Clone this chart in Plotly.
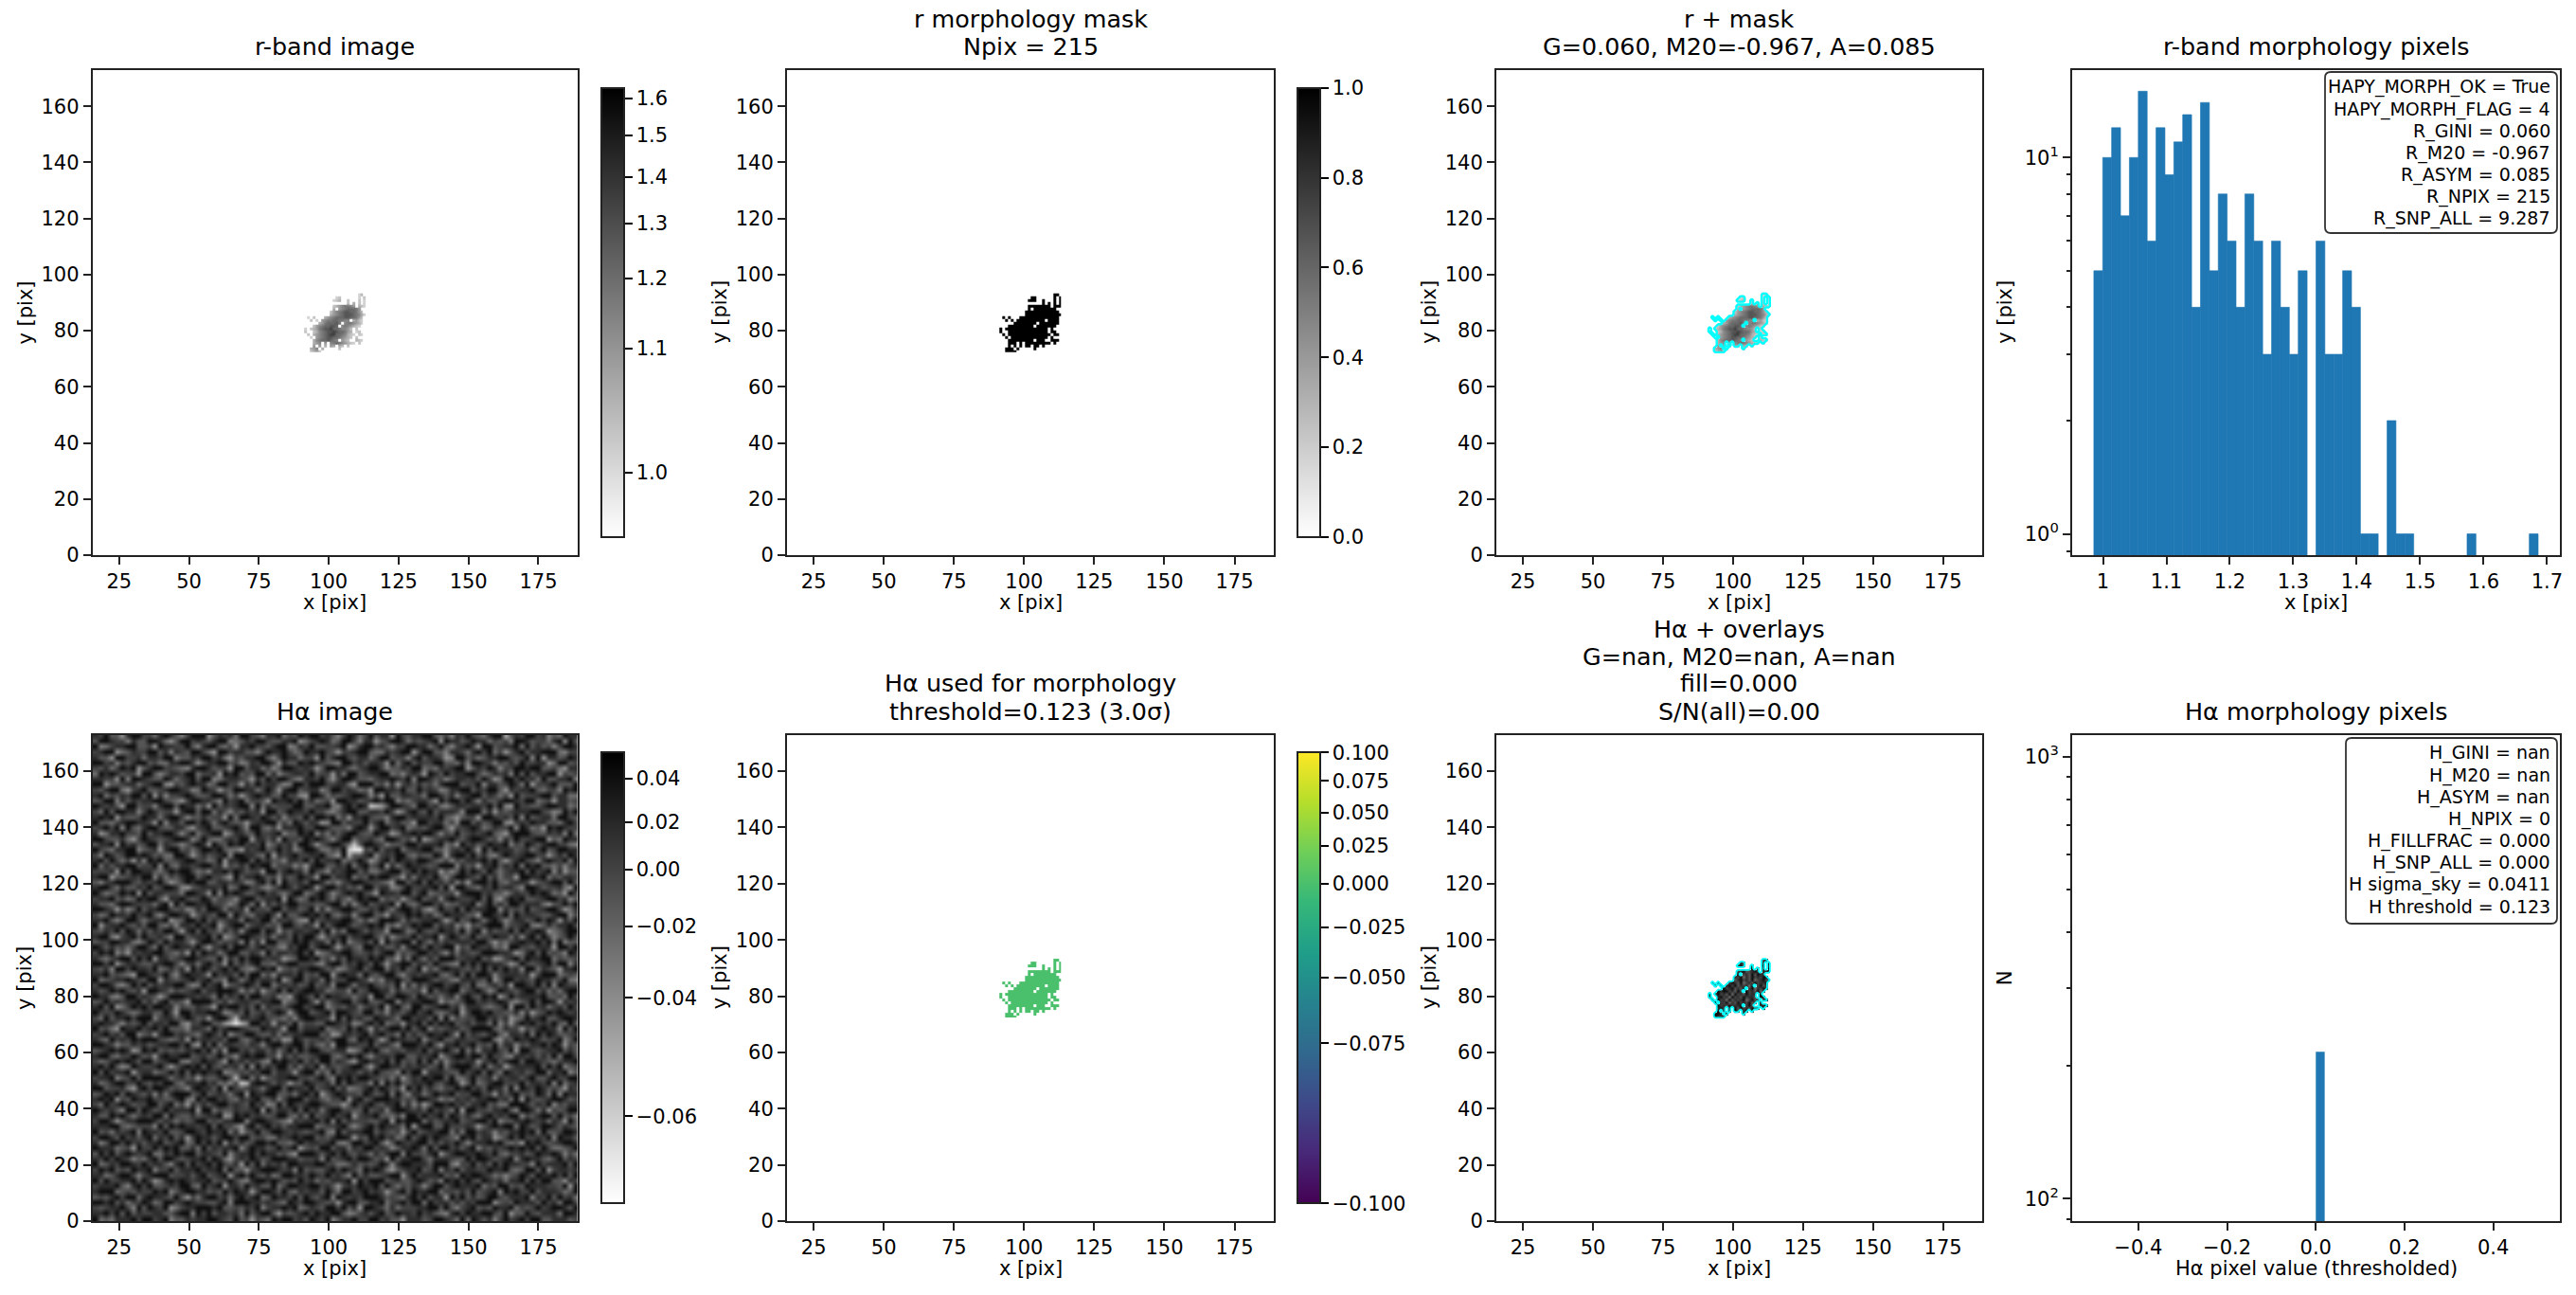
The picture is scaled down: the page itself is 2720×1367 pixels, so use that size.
import numpy as np
import plotly.graph_objects as go
from plotly.subplots import make_subplots

# r-band histogram, 50 bins
R_HIST_START = 0.9856
R_HIST_WIDTH = 0.01401
R_HIST_COUNTS = [5, 10, 12, 7, 10, 15, 6, 12, 9, 11, 13, 4, 14, 5, 8, 6, 4, 8, 6, 3, 6, 4, 3, 5, 0,
                 6, 3, 3, 5, 4, 1, 1, 0, 2, 1, 1, 0, 0, 0, 0, 0, 0, 1, 0, 0, 0, 0, 0, 0, 1]

# Halpha histogram, only one filled bin
HA_HIST_LEFT = [0.0]
HA_HIST_WIDTH = [0.02]
HA_HIST_COUNTS = [215]

# colorbar ticks and where they sit along the bar (0 bottom, 1 top)
R_CB_VALUES = [0.985, 1.0, 1.1, 1.2, 1.3, 1.4, 1.5, 1.6, 1.63]
R_CB_POS = [0.0, 0.143, 0.42, 0.576, 0.698, 0.802, 0.895, 0.977, 1.0]
R_CB_LABELS = ['1.0', '1.1', '1.2', '1.3', '1.4', '1.5', '1.6']

HA_CB_VALUES = [-0.0645, -0.06, -0.04, -0.02, 0.0, 0.02, 0.04, 0.056]
HA_CB_POS = [0.0, 0.193, 0.456, 0.614, 0.741, 0.845, 0.942, 1.0]
HA_CB_LABELS = ['\u22120.06', '\u22120.04', '\u22120.02', '0.00', '0.02', '0.04']

MASK_CB_VALUES = [0.0, 0.2, 0.4, 0.6, 0.8, 1.0]
MASK_CB_LABELS = ['0.0', '0.2', '0.4', '0.6', '0.8', '1.0']

USED_CB_VALUES = [-0.1, -0.075, -0.05, -0.025, 0.0, 0.025, 0.05, 0.075, 0.1]
USED_CB_POS = [0.0, 0.355, 0.501, 0.612, 0.709, 0.793, 0.866, 0.937, 1.0]
USED_CB_LABELS = ['\u22120.100', '\u22120.075', '\u22120.050', '\u22120.025', '0.000', '0.025', '0.050', '0.075', '0.100']

# blob cut-out, top row first, '.' is outside the mask, digit is a flux level
BLOB_X0 = 91.7
BLOB_Y0 = 72.8
R_LEVELS = [1.0, 1.01, 1.03, 1.06, 1.09, 1.13, 1.17, 1.21, 1.27, 1.35]
R_BLOB = [
    "...................13.",
    "...........12......1.2",
    "..........123..2...2.1",
    "...............2.3.2.1",
    "..........23456654.321",
    "..........3.45677764..",
    ".........245678877642.",
    ".........3456788876531",
    ".1.2...34567778877642.",
    "..2.1.4566776655.3421.",
    ".....34677786.5665431.",
    "...245677887.5654321..",
    "1.234678897765542.2...",
    "2..23567889877643.12..",
    ".2.345678997765321.21.",
    "..1.4567887765432.2...",
    "...356778765.432..321.",
    "...345.4.567654321.2..",
    "...4.4.3.43.32.2......",
    "..345.3.....2.........",
    "..2342................",
]
HA_LEVELS = [-0.062, -0.056, -0.05, -0.042, -0.034, -0.025, -0.012, 0.0, 0.015, 0.04]
HA_BLOB = [
    "...................79.",
    "...........86......8.9",
    "..........795..7...9.8",
    "...............9.8.7.9",
    "..........78967897.889",
    "..........9.78696988..",
    ".........879586978799.",
    ".........6897869578968",
    ".9.8...79869578697889.",
    "..8.9.8979687859.7968.",
    ".....97896869.7958797.",
    "...989978697.9786958..",
    "8.797869597869788.9...",
    "9..89785978697886.98..",
    ".8.978596878957968.79.",
    "..9.8795869787968.8...",
    "...978697889.796..889.",
    "...897.8.969786978.9..",
    "...9.7.8.97.89.8......",
    "..998.9.....8.........",
    "..9789................",
]

# Halpha background, hand estimated grain (digit 0 pale .. 9 dark), top row first
HA_GRID_X0 = 15.5
HA_GRID_STEP = 1.93
HA_GRAIN = [
    "8796638997 7589864799 9368785997 6488957698 9978647985 7968839768 8996574879 7658992687 9978465988",
    "6998774866 9985369978 7689945687 9976688935 7898569974 8836799857 6789398867 9885767499 8677589396",
    "9457889966 7398877964 8996573889 7768994587 9667789358 9978647799 8857964789 7399678895 9686747998",
    "7899356877 9968487699 7539978866 4798897569 8897637789 9655878993 7996648875 8979573689 6889995477",
    "8663997785 8879946687 9978537688 9964798857 7396899768 8579967748 9688734996 7568899767 9493886798",
    "9978476899 6755889973 6889967458 7997386698 9876549978 6887395896 8779966584 9987476869 7788359967",
    "7685798936 8997765489 9867739968 8574699878 7369988657 8997466879 9565878993 6879847799 8996675388",
    "5989867739 9646887995 7783989676 9958467887 9677385996 7889956478 7398697889 9756878496 9688993767",
    "8877394998 7669857896 9945788763 8697997548 8796379986 6578898794 9986746887 8697359979 7859668894",
    "9936678857 8994376898 8569977386 9788645997 6897788539 9967483786 8675899967 7948867985 9377896669",
    "7689953789 6678998745 9873669988 5797389967 8846997875 6399887966 9787458899 6879963878 8965774989",
    "8957687996 9384778986 6799857368 9886697743 9985767899 8473966887 7599868478 9968757396 7789968855",
    "6799486878 8997653799 8864978957 7639889796 8567399886 7898994657 8863979979 7486689987 9956738867",
    "9878639967 7489969885 7396878994 9586777996 6889548979 8763699875 9978546887 8879694397 7668998856",
    "7596998847 9867738996 9958647687 8399679887 9775468996 6887973589 7696888749 9958376788 8997645979",
    "8989376679 8858997466 8677395998 7986847769 6998957388 9766489978 8887965367 7399878694 9678859976",
    "9665789988 7394886997 9858976637 8899575986 8734996877 9689578663 9978857499 6867994378 7988665897",
    "7897949658 9976688537 8966789749 9657388897 7998666489 8379978956 7689963778 9856877949 8563989877",
    "8358897769 6889974795 7899358866 9778946698 9475868997 6698735889 8997476967 8789653899 9766878495",
    "9976685379 8767899846 9655787993 8868397769 8986479957 7865998674 9357889768 9986748697 7899365988",
    "6889397867 9958764689 8397698978 7946878599 7368997586 9987466799 7888956397 8679889476 9868997754",
    "9765889946 7838996757 9989655387 8967978469 9855769883 7696889578 8996647879 7396988867 8579679988",
    "7498679989 8675599736 8678949988 6593878977 8896539766 8947879965 7669838997 9685479878 9977368698",
    "8969757384 9896678997 7569388996 9786648879 6978895679 7358969887 9986574768 8897963689 7648987959",
    "9586889967 7949658878 9978376869 8995777463 8996687958 9679385798 8767999486 7388968795 9896657478",
    "7778396998 8657989975 6488979867 7399689885 9764878996 8557899679 7988364697 9869757889 6978948366",
    "8993667879 9485768996 8977539688 9867486798 7399688957 6989976385 8879647998 7696857739 9889576887",
    "6478999768 7896357989 9668878745 8969397786 9985647899 8776539968 9697868473 8997965788 7367899696",
    "8997586687 9679984367 8887956997 7546898689 8379978675 9968845797 7889693997 6587978864 9986778539",
    "9756798939 6887775998 7394989866 8978657995 6897468989 7639887996 8956777389 9978664687 7989856397",
    "7889675698 9963889767 9857764899 6788939756 9897586479 8995767368 9678489877 8969537989 6678997846",
    "8665899877 7589396998 8977646985 9386879977 7668995847 9678893965 7997856688 9479686997 8885367979",
    "9987374696 8899767458 6998587839 7769968867 9484789986 6879758997 8536977969 7889948676 9678997358",
    "7569887978 9647998836 8769949765 8897396689 8979657848 9966387798 9785698886 6399879597 8876689947",
    "8896469975 7889356997 9686788598 7995878643 9678889975 7469998586 7889736967 9858974688 6797983869",
    "9378897686 9965748879 7893689957 8867599768 7396899867 8989564779 8996878463 7689995778 9546868897",
    "7687969858 6879973896 9775868489 9698376887 8969475998 6877399856 9767988695 8948677969 7898356899",
    "8995378969 7786499678 8969357998 7685886979 9637789688 9975846779 6889379867 9677988584 8969746797",
    "6779988546 9869788637 9986778495 8399667989 7885969467 8693978995 9758687888 7996365789 8897959466",
    "9868675799 7596898879 6378969986 8977548799 6899737865 9978668489 8697899376 9878564997 7688839979",
    "7989463878 8997657396 9885799668 7496887897 9356889976 7868995767 9978648587 6799988735 8969676498",
    "8657899697 9388678998 7669486979 9878735699 8967486988 7989663859 7586999778 8967347896 9889957667",
    "9979368876 6889974785 8977396868 9665889977 7548996879 8697378996 8869765497 9798886359 7678969948",
    "7684997988 7956868397 9868979654 7989367688 9986745789 6899587967 9375898876 8696979784 9958763889",
    "8896765399 8779648988 7397886969 9574888796 7699389885 9768996478 7889657969 6998478887 8379995676",
    "9567889876 9938767897 8966498579 7887936996 8859677998 7364889769 9986775488 8769369978 7698867954",
    "7998546979 6878899645 9789367898 6995787867 9678499858 8976769385 8689978976 9557868399 8796949877",
    "8679897683 9987576789 6889998475 8367969789 9885677496 7998858667 7396889957 8974698768 9968575899",
    "9885469978 7636999887 8759687969 9778453898 6969887757 8399679986 9867578489 7698936978 8889667597",
    "6797878896 8589676399 9976857887 6889946799 7385789968 9667994878 8998365679 9787898546 7969983878",
    "8969357989 7998847668 7639899786 9587768997 8994676885 7879389659 9678997848 8865679399 6978578697",
    "9777986568 8669739978 8998457696 7868983799 6789599876 9967487689 7896568937 9989776684 8367989878",
    "7596889799 9478867986 7389969887 8976657489 9887396978 6698875997 8869494767 7997868356 9789668998",
    "8988647679 6887995377 9966788649 9783886957 7669987845 8979567388 9697989678 6885947379 8978796596",
    "9675398897 8979666488 7597899876 6988739968 8895676979 7386899796 8947678867 9999658773 7689884969",
    "7897869946 7389978765 8986946799 7668587889 9967348878 9689775968 6798897396 8768964887 9597986678",
    "8659787989 9976568397 8878699657 9896734986 7786899659 8973698877 9478966887 7899537698 8986779469",
    "9987466878 6788997953 9695887768 7489978996 8657399887 7968864999 8796388978 9676958847 6889798376",
    "6789898359 8967676889 7958399786 8868579697 9976788346 9896577688 7968897595 8488976939 9767889686",
    "8996577986 7389889967 8679764898 9977386866 7899657989 6478879966 8789368997 9969775488 7868695997",
    "7568989869 9678995477 9886397868 7549898796 8699687538 9887969676 9695847878 8378968996 9987657889",
    "8979645987 7896368989 6976878594 9687996858 7948767899 6379988687 8867958999 7695783688 8896979467",
    "9697889378 8567979698 9889456768 7996887389 9575968886 8797664979 9388876697 8969759878 6799588946",
    "7889467969 9998578673 7668979895 8367889977 6896498979 9876758368 7989969557 9678487886 8966897799",
    "8568997797 6879965888 9785647998 9986873669 8778596987 7494979668 8897689836 9568997779 6887949578",
    "9967785389 7998676489 8869397678 7589969887 9678968456 8979867397 9686577989 7869885949 8798676387",
    "6798969876 8485899967 9678758939 8899667589 7936898776 9867959648 8579889677 9977386896 7698594988",
    "8989376988 9776689549 7997865878 9668479996 8865779389 6799988676 9987465878 6889978593 9767899867",
    "7597898677 9968957386 8689978769 7845969878 9987663697 8976889584 7369989786 8896755999 8687947688",
    "9878649969 8679788893 9957668778 9396887969 7858997766 9678489987 8697875939 9776889649 9858376799",
    "8669897578 7995976686 7889349897 8767996585 9678978937 8896657499 7978969868 6589787994 7689969675",
    "7997368899 9868757679 9676889948 9987653878 8979496877 7668939899 9586788967 8997946688 9878587396",
    "8889965677 7496989887 8969775389 6897868899 9567789646 8979887593 8996697778 7368989959 8679986876",
    "9675878949 8879667998 7988958367 9679987876 7895496888 9968767379 6788995859 9787476889 8959667998",
    "7998697868 9587968379 8868997996 7755878989 9676899837 6989785696 8979876498 9688357979 7787949886",
    "8469979786 8896789569 7979386867 9989665797 8878954699 7896369878 9968687974 7889896563 9897678998",
    "9888567397 7979896685 9687889479 8867978936 7699688587 9978746889 8596997868 9476878989 8969755679",
    "6979689878 9558798996 8876947889 7988675399 9868979768 7586899497 7689368998 8987965778 6798898475",
    "8797987465 8969976788 9698537879 8679998867 7849678979 9867396889 9758887669 7998678948 9886579687",
    "9568799879 7886489697 8979768396 9587869988 8997755686 7679848998 8869995377 9686979887 7497888969",
    "7989676988 9477968889 7889596637 8999878496 7668979875 9898536788 9679487968 8779889656 9969378878",
    "8856899747 8999677868 9678938979 7685699887 9879786496 8667899379 7888967598 9987564679 8698897969",
    "9697788969 7358989878 8967797548 9989867697 8576888939 7999678668 9867498979 7698785889 6979966387",
    "7888964897 9667879965 9789388697 8669579988 9978637879 8896975768 7479968988 8957699676 9888776939",
    "8999567687 7989468998 8676979883 7998696587 8869759978 9787368969 8899577686 9678949897 7968887569",
    "6768979958 9887696375 8997858978 9569887969 7689498787 9998676589 7968839796 8679976888 9487969785",
    "9989685779 8569978987 7668949998 8787659879 9876738996 6889578979 9597886868 7999367698 8869785997",
    "7678897496 9879357889 9989667687 9478898956 8769979683 9987585777 8899696478 9676988957 6797899869",
    "8897969687 7886689949 7968878596 8996376789 7988996457 8689679887 9786548979 8899769366 9768885998",
    "9565888979 9789466878 8998769673 7659899786 9879468897 7997866388 8679987595 9868479789 7996688867",
]
# spots that stand out in the picture: x, y, grain digit
HA_SPOT_X = [107.0, 109.0, 111.0, 109.0, 107.0, 62.0, 64.0, 66.0, 68.0, 66.0, 114.0, 116.0, 66.0, 68.0, 70.0, 94.0, 96.0]
HA_SPOT_Y = [133.0, 133.0, 133.0, 135.0, 131.0, 70.6, 70.6, 70.6, 70.6, 72.5, 148.0, 148.0, 51.0, 50.0, 49.0, 154.8, 154.8]
HA_SPOT_LEVEL = [1, 0, 0, 1, 2, 3, 2, 0, 2, 2, 1, 2, 2, 1, 2, 9, 9]

TITLES = ['r-band image', 'r morphology mask<br>Npix = 215',
          'r + mask<br>G=0.060, M20=-0.967, A=0.085', 'r-band morphology pixels',
          'H\u03b1 image', 'H\u03b1 used for morphology<br>threshold=0.123 (3.0\u03c3)',
          'H\u03b1 + overlays<br>G=nan, M20=nan, A=nan<br>fill=0.000<br>S/N(all)=0.00',
          'H\u03b1 morphology pixels']
R_BOX_LINES = ['HAPY_MORPH_OK = True', 'HAPY_MORPH_FLAG = 4', 'R_GINI = 0.060', 'R_M20 = -0.967',
               'R_ASYM = 0.085', 'R_NPIX = 215', 'R_SNP_ALL = 9.287']
HA_BOX_LINES = ['H_GINI = nan', 'H_M20 = nan', 'H_ASYM = nan', 'H_NPIX = 0', 'H_FILLFRAC = 0.000',
                'H_SNP_ALL = 0.000', 'H sigma_sky = 0.0411', 'H threshold = 0.123']

WIDTH = 2720
HEIGHT = 1367
# right and bottom margins kept big enough that the colorbars do not push them
MARGIN_R = 15
MARGIN_B = 40
COL_LEFT = [97.7, 831, 1580, 2188]
COL_RIGHT = [609.8, 1345, 2093, 2703]
ROW_TOP = [73.7, 775.5]
ROW_BOTTOM = [586, 1289]
FONT = 'DejaVu Sans'
TICK_SIZE = 21
TITLE_SIZE = 25.4
GRAY_R = [[0, 'white'], [1, 'black']]


def px_x(x):
    return x / (WIDTH - MARGIN_R)


def px_y(y):
    return 1 - y / (HEIGHT - MARGIN_B)


def read_rows(rows, levels):
    # top row first in the text, bottom row first for the heatmap
    z = [[levels[int(c)] if c != '.' else np.nan for c in row] for row in rows]
    return np.array(z[::-1], dtype=float)


def read_background():
    rows = [r.replace(' ', '') for r in HA_GRAIN]
    ncols = min(len(r) for r in rows)
    z = np.array([[HA_LEVELS[int(c)] for c in r[:ncols]] for r in rows], dtype=float)[::-1]
    for x, y, level in zip(HA_SPOT_X, HA_SPOT_Y, HA_SPOT_LEVEL):
        z[int(y / HA_GRID_STEP), int((x - HA_GRID_X0) / HA_GRID_STEP)] = HA_LEVELS[level]
    return z


def colorbar(tickvals, ticktext, col, row):
    top = ROW_TOP[row] + 19
    bottom = ROW_BOTTOM[row] - 19
    return dict(x=px_x(COL_RIGHT[col] + 25), xanchor='left', xpad=0, ypad=0,
                y=px_y((top + bottom) / 2), yanchor='middle',
                len=bottom - top, lenmode='pixels', thickness=24, thicknessmode='pixels',
                tickmode='array', tickvals=tickvals, ticktext=ticktext,
                ticks='outside', ticklen=8, tickwidth=2, tickcolor='black',
                outlinewidth=2, outlinecolor='#222222',
                tickfont=dict(family=FONT, size=TICK_SIZE, color='black'))


def rounded_box(x0, y0, x1, y1, r=6):
    return (f'M {px_x(x0 + r)} {px_y(y0)} L {px_x(x1 - r)} {px_y(y0)} '
            f'Q {px_x(x1)} {px_y(y0)} {px_x(x1)} {px_y(y0 + r)} L {px_x(x1)} {px_y(y1 - r)} '
            f'Q {px_x(x1)} {px_y(y1)} {px_x(x1 - r)} {px_y(y1)} L {px_x(x0 + r)} {px_y(y1)} '
            f'Q {px_x(x0)} {px_y(y1)} {px_x(x0)} {px_y(y1 - r)} L {px_x(x0)} {px_y(y0 + r)} '
            f'Q {px_x(x0)} {px_y(y0)} {px_x(x0 + r)} {px_y(y0)} Z')


def main():
    fig = make_subplots(rows=2, cols=4)

    r_blob = read_rows(R_BLOB, R_LEVELS)
    ha_blob = read_rows(HA_BLOB, HA_LEVELS)
    mask = np.isfinite(r_blob)
    blob_x = BLOB_X0 + np.arange(r_blob.shape[1])
    blob_y = BLOB_Y0 + np.arange(r_blob.shape[0])

    # zero rim so the contour closes round the blob
    rim = np.pad(mask.astype(float), 1)
    rim_x = BLOB_X0 - 1 + np.arange(rim.shape[1])
    rim_y = BLOB_Y0 - 1 + np.arange(rim.shape[0])

    def blob_map(z, **kw):
        # bricks leave hairlines when unsmoothed, the picture is interpolated anyway
        return go.Heatmap(z=z, x=blob_x, y=blob_y, zmin=0, zmax=1, zsmooth='best', hoverongaps=False, **kw)

    def outline(width):
        return go.Contour(z=rim, x=rim_x, y=rim_y, autocontour=False, showscale=False,
                          contours=dict(coloring='none', start=0.5, end=0.5, size=1),
                          line=dict(color='cyan', width=width, smoothing=0))

    r_z = np.interp(r_blob, R_CB_VALUES, R_CB_POS)
    r_z[~mask] = np.nan
    ha_z = np.interp(ha_blob, HA_CB_VALUES, HA_CB_POS)
    ha_z[~mask] = np.nan

    # top row
    fig.add_trace(blob_map(r_z, colorscale=GRAY_R,
                           colorbar=colorbar(R_CB_POS[1:-1], R_CB_LABELS, 0, 0)), row=1, col=1)
    fig.add_trace(blob_map(np.where(mask, 1.0, np.nan), colorscale=GRAY_R,
                           colorbar=colorbar(MASK_CB_VALUES, MASK_CB_LABELS, 1, 0)), row=1, col=2)
    fig.add_trace(blob_map(r_z, colorscale=GRAY_R, showscale=False), row=1, col=3)
    fig.add_trace(outline(2.4), row=1, col=3)

    r_left = R_HIST_START + R_HIST_WIDTH * np.arange(len(R_HIST_COUNTS))
    r_counts = [c if c > 0 else None for c in R_HIST_COUNTS]
    fig.add_trace(go.Bar(x=r_left + R_HIST_WIDTH / 2, y=r_counts, width=R_HIST_WIDTH,
                         marker=dict(color='#1f77b4', line=dict(color='#1f77b4', width=0.6))), row=1, col=4)

    # bottom row
    background = read_background()
    fig.add_trace(go.Heatmap(z=np.interp(background, HA_CB_VALUES, HA_CB_POS), zsmooth='best',
                             x0=HA_GRID_X0 + HA_GRID_STEP / 2, dx=HA_GRID_STEP,
                             y0=HA_GRID_STEP / 2, dy=HA_GRID_STEP, zmin=0, zmax=1, colorscale=GRAY_R,
                             colorbar=colorbar(HA_CB_POS[1:-1], HA_CB_LABELS, 0, 1)), row=2, col=1)
    used_zero = np.interp(0.0, USED_CB_VALUES, USED_CB_POS)
    fig.add_trace(blob_map(np.where(mask, used_zero, np.nan), colorscale='Viridis',
                           colorbar=colorbar(USED_CB_POS, USED_CB_LABELS, 1, 1)), row=2, col=2)
    fig.add_trace(blob_map(ha_z, colorscale=GRAY_R, showscale=False), row=2, col=3)
    fig.add_trace(outline(1.8), row=2, col=3)
    fig.add_trace(go.Bar(x=[HA_HIST_LEFT[0] + HA_HIST_WIDTH[0] / 2], y=HA_HIST_COUNTS, width=HA_HIST_WIDTH,
                         marker=dict(color='#1f77b4', line_width=0)), row=2, col=4)

    axis_style = dict(showline=True, linewidth=2, linecolor='#222222', mirror=True, ticks='outside',
                      ticklen=8, tickwidth=2, tickcolor='#222222', showgrid=False, zeroline=False,
                      tickfont=dict(family=FONT, size=TICK_SIZE, color='black'))
    annotations = []

    def label(text, x, y, size=TICK_SIZE, angle=0, yanchor='middle', xanchor='center'):
        annotations.append(dict(text=text, x=px_x(x), y=px_y(y), xref='paper', yref='paper', showarrow=False,
                                textangle=angle, yanchor=yanchor, xanchor=xanchor,
                                font=dict(family=FONT, size=size, color='black')))

    for row in range(2):
        for col in range(4):
            left, right = COL_LEFT[col], COL_RIGHT[col]
            top, bottom = ROW_TOP[row], ROW_BOTTOM[row]
            fig.update_xaxes(domain=[px_x(left), px_x(right)], row=row + 1, col=col + 1, **axis_style)
            fig.update_yaxes(domain=[px_y(bottom), px_y(top)], row=row + 1, col=col + 1, **axis_style)
            # one annotation per title line so the line spacing can follow the picture
            lines = TITLES[row * 4 + col].split('<br>')
            for i, line in enumerate(lines):
                label(line, (left + right) / 2, top - 8 - 29 * (len(lines) - 1 - i), size=TITLE_SIZE, yanchor='bottom')
            if col < 3:
                fig.update_xaxes(range=[15.5, 189], tickmode='array',
                                 tickvals=[25, 50, 75, 100, 125, 150, 175], row=row + 1, col=col + 1)
                fig.update_yaxes(range=[0, 173], tickmode='array',
                                 tickvals=[0, 20, 40, 60, 80, 100, 120, 140, 160], row=row + 1, col=col + 1)
            xtitle = 'x [pix]'
            if col == 3 and row == 1:
                xtitle = 'H\u03b1 pixel value (thresholded)'
            label(xtitle, (left + right) / 2, bottom + 50)
            ytitle = 'N' if (col == 3 and row == 1) else 'y [pix]'
            label(ytitle, left - 71, (top + bottom) / 2, angle=-90)

    # histogram axes
    fig.update_xaxes(range=[0.9514, 1.7204], tickmode='array',
                     tickvals=[1.0, 1.1, 1.2, 1.3, 1.4, 1.5, 1.6, 1.7], row=1, col=4)
    fig.update_yaxes(type='log', range=[np.log10(0.878), np.log10(17.1)], tickmode='array',
                     tickvals=[1, 10], ticktext=['10<sup>0</sup>', '10<sup>1</sup>'],
                     minor=dict(ticks='outside', ticklen=4, tickwidth=1.5, tickcolor='#222222',
                                tickvals=[0.9, 2, 3, 4, 5, 6, 7, 8, 9]), row=1, col=4)
    fig.update_xaxes(range=[-0.549, 0.55], tickmode='array', tickvals=[-0.4, -0.2, 0.0, 0.2, 0.4],
                     ticktext=['\u22120.4', '\u22120.2', '0.0', '0.2', '0.4'], row=2, col=4)
    fig.update_yaxes(type='log', range=[np.log10(89), np.log10(1122)], tickmode='array',
                     tickvals=[100, 1000], ticktext=['10<sup>2</sup>', '10<sup>3</sup>'],
                     minor=dict(ticks='outside', ticklen=4, tickwidth=1.5, tickcolor='#222222',
                                tickvals=[90, 200, 300, 400, 500, 600, 700, 800, 900]), row=2, col=4)

    # stat boxes
    boxes = [(2455, 76, 2700, 246, R_BOX_LINES), (2477, 779, 2700, 975, HA_BOX_LINES)]
    shapes = []
    for x0, y0, x1, y1, lines in boxes:
        shapes.append(dict(type='path', path=rounded_box(x0, y0, x1, y1), xref='paper', yref='paper',
                           fillcolor='white', line=dict(color='#333333', width=1.8), layer='above'))
        for i, line in enumerate(lines):
            label(line, x1 - 5, y0 + 16 + 23.1 * i, size=19, xanchor='right')

    fig.update_layout(width=WIDTH, height=HEIGHT, autosize=False, showlegend=False,
                      margin=dict(l=0, r=MARGIN_R, t=0, b=MARGIN_B), paper_bgcolor='white', plot_bgcolor='white',
                      shapes=shapes, annotations=annotations, font=dict(family=FONT))
    fig.write_html("out.html", config={'displayModeBar': False}, post_script="document.body.style.margin='0';")


if __name__ == "__main__":
    main()
